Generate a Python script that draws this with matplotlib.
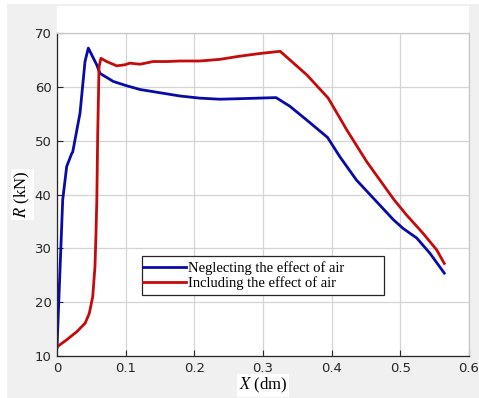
import matplotlib
matplotlib.use("Agg")
import matplotlib.pyplot as plt
from matplotlib.patches import Rectangle

plt.rcParams["mathtext.fontset"] = "stix"

# Neglecting the effect of air (blue)
x_neg = [0.0, 0.0083, 0.0141, 0.0214, 0.0229, 0.0335, 0.0408, 0.0456, 0.0578,
         0.0626, 0.082, 0.1015, 0.121, 0.15, 0.179, 0.208, 0.237, 0.2665, 0.319,
         0.339, 0.364, 0.394, 0.412, 0.436, 0.463, 0.490, 0.504, 0.524, 0.543, 0.564]
r_neg = [11.5, 39.0, 45.2, 47.6, 47.9, 55.1, 64.7, 67.2, 64.1,
         62.5, 61.0, 60.2, 59.5, 58.9, 58.3, 57.9, 57.7, 57.8, 58.0,
         56.4, 53.8, 50.6, 47.0, 42.7, 39.0, 35.3, 33.7, 31.9, 29.1, 25.4]

# Including the effect of air (red)
x_inc = [0.0, 0.014, 0.0287, 0.041, 0.047, 0.052, 0.0553, 0.0568, 0.058, 0.0593,
         0.0612, 0.064, 0.0723, 0.087, 0.099, 0.106, 0.121, 0.140, 0.160, 0.179,
         0.208, 0.237, 0.2665, 0.296, 0.325, 0.364, 0.395, 0.422, 0.451, 0.491,
         0.509, 0.533, 0.553, 0.560, 0.564]
r_inc = [11.7, 13.0, 14.5, 16.1, 17.9, 21.0, 26.6, 32.8, 39.0, 51.4,
         63.7, 65.3, 64.7, 63.9, 64.1, 64.4, 64.2, 64.7, 64.7, 64.8,
         64.8, 65.1, 65.7, 66.2, 66.6, 62.2, 57.9, 52.0, 46.1, 39.0,
         36.2, 32.8, 29.7, 28.1, 27.2]

labels = ["Neglecting the effect of air", "Including the effect of air"]

W, H = 479, 398
fig = plt.figure(figsize=(W / 100, H / 100), dpi=100, facecolor="white")

# grey MATLAB-style background and white strip above the axes
fig.patches.append(Rectangle((7 / W, 0), 1, 1 - 4 / H, transform=fig.transFigure,
                             facecolor="#f0f0f0", edgecolor="none", zorder=-10))
fig.patches.append(Rectangle((57 / W, 1 - 33 / H), 412 / W, 27 / H,
                             transform=fig.transFigure, facecolor="white",
                             edgecolor="none", zorder=-9))

ax = fig.add_axes([57 / W, 1 - 356 / H, 412 / W, 323 / H])
ax.set_facecolor("white")

ax.plot(x_neg, r_neg, color="#0a0aa8", lw=2.0, label=labels[0])
ax.plot(x_inc, r_inc, color="#c40a0a", lw=2.0, label=labels[1])

ax.set_xlim(0, 0.6)
ax.set_ylim(10, 70)
ax.set_xticks([0, 0.1, 0.2, 0.3, 0.4, 0.5, 0.6])
ax.set_xticklabels(["0", "0.1", "0.2", "0.3", "0.4", "0.5", "0.6"])
ax.set_yticks([10, 20, 30, 40, 50, 60, 70])
ax.grid(True, color="#d4d4d4", lw=0.9)
ax.set_axisbelow(True)
ax.tick_params(direction="in", length=4, width=0.8, labelsize=9.5,
               colors="#262626", pad=4, top=False, right=False)
for s in ["left", "bottom"]:
    ax.spines[s].set_color("#262626")
    ax.spines[s].set_linewidth(0.9)
for s in ["top", "right"]:
    ax.spines[s].set_color("#c8c8c8")
    ax.spines[s].set_linewidth(0.9)

lab_font = {"family": "Liberation Serif", "size": 12}
ax.set_xlabel("$X$ (dm)", fontdict=lab_font, labelpad=1,
              bbox=dict(facecolor="white", edgecolor="none", pad=1.5))
ax.set_ylabel("$R$ (kN)", fontdict=lab_font, labelpad=2,
              bbox=dict(facecolor="white", edgecolor="none", pad=1.5))

# legend box drawn separately (MATLAB leaves extra room on the right)
fig.patches.append(Rectangle((142 / W, 1 - 295 / H), 242 / W, 39 / H,
                             transform=fig.transFigure, facecolor="white",
                             edgecolor="#262626", lw=0.9, zorder=5))
leg = fig.legend(*ax.get_legend_handles_labels(), loc="center left",
                 bbox_to_anchor=(142 / W, 1 - 275.5 / H), frameon=False,
                 handlelength=2.9, handletextpad=0.15, borderpad=0.1,
                 labelspacing=0.05, borderaxespad=0,
                 prop={"family": "Liberation Serif", "size": 10.5})
leg.set_zorder(6)

fig.savefig("out.png", dpi=100, facecolor=fig.get_facecolor())
